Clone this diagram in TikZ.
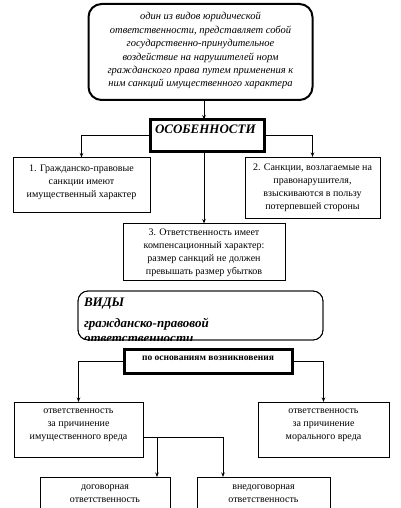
\documentclass[tikz,border=0pt]{standalone}
\usepackage{fontspec}
\setmainfont{Liberation Serif}
\usetikzlibrary{arrows.meta,calc}
\begin{document}
\begin{tikzpicture}[x=1pt,y=-1pt,
  ln/.style={draw=black, line width=0.8pt},
  arr/.style={ln, -{Stealth[length=4.5pt,width=3.5pt]}},
  box/.style={ln, rectangle, inner sep=0pt, outer sep=0pt},
  thickbox/.style={box, line width=3pt},
  txt/.style={inner sep=0pt, outer sep=0pt, align=center, font=\fontsize{10}{13}\selectfont},
  ittxt/.style={inner sep=0pt, outer sep=0pt, align=center, font=\fontsize{10.5}{13.4}\selectfont\itshape},
  bitxt/.style={inner sep=0pt, outer sep=0pt, anchor=base west, font=\fontsize{13}{15}\selectfont\bfseries\itshape}
]
\useasboundingbox (0,0) rectangle (401,508);
\fill[white] (0,0) rectangle (401,508);

% top definition box
\node[box, rounded corners=13pt, line width=2pt, minimum width=224pt, minimum height=96pt] (top) at (200.5,52) {};
\node[ittxt, anchor=north] (ttop) at (200.5,12.5) {один из видов юридической\\ответственности, представляет собой\\государственно-принудительное\\воздействие на нарушителей норм\\гражданского права путем применения к\\ним санкций имущественного характера};

% features header
\node[thickbox, minimum width=114pt, minimum height=32pt] (osob) at (207,135.5) {};
\node[bitxt] (tosob) at (155,133) {ОСОБЕННОСТИ};

% feature boxes
\node[box, minimum width=137pt, minimum height=55pt] (b1) at (81.5,185) {};
\node[txt, anchor=north] (t1) at (81.5,164.5) {1. Гражданско-правовые\\санкции имеют\\имущественный характер};

\node[box, minimum width=135pt, minimum height=61pt] (b2) at (312.5,187.5) {};
\node[txt, anchor=north] (t2) at (312.5,163.5) {2. Санкции, возлагаемые на\\правонарушителя,\\взыскиваются в пользу\\потерпевшей стороны};

\node[box, minimum width=162pt, minimum height=57pt] (b3) at (204,252) {};
\node[txt, anchor=north] (t3) at (204,229) {3. Ответственность имеет\\компенсационный характер:\\размер санкций не должен\\превышать размер убытков};

% kinds box (text clipped by frame)
\node[box, rounded corners=10pt, minimum width=245pt, minimum height=49pt] (vidy) at (200.5,315.5) {};
\begin{scope}
  \clip[rounded corners=10pt] (vidy.north west) rectangle (vidy.south east);
  \node[bitxt] (tv1) at (84,306) {ВИДЫ};
  \node[bitxt] (tv2) at (84,327) {гражданско-правовой};
  \node[bitxt] (tv3) at (84,342) {ответственности};
\end{scope}
\draw[ln, rounded corners=10pt] (vidy.north west) rectangle (vidy.south east);

% grounds header
\node[thickbox, minimum width=168pt, minimum height=24pt] (osn) at (208,361) {};
\node[inner sep=0pt, font=\fontsize{9.5}{11}\selectfont\bfseries] (tosn) at (208,358) {по основаниям возникновения};

% kinds boxes
\node[box, minimum width=129pt, minimum height=55pt] (b4) at (78.5,429.5) {};
\node[txt, anchor=north] (t4) at (78.5,409) {ответственность\\за причинение\\имущественного вреда};

\node[box, minimum width=131pt, minimum height=55pt] (b5) at (323.5,429.5) {};
\node[txt, anchor=north] (t5) at (323.5,409) {ответственность\\за причинение\\морального вреда};

\node[box, minimum width=130pt, minimum height=40pt] (b6) at (105,497) {};
\node[txt, anchor=north] (t6) at (105,485) {договорная\\ответственность};

\node[box, minimum width=133pt, minimum height=40pt] (b7) at (263.5,497) {};
\node[txt, anchor=north] (t7) at (263.5,485) {внедоговорная\\ответственность};

% connectors
\draw[arr] (b3.north |- top.south) -- (b3.north |- osob.north);
\draw[arr] (osob.west) -| (b1.north);
\draw[arr] (osob.east) -| (b2.north);
\draw[arr] (b3.north |- osob.south) -- (b3.north);

\draw[arr] (osn.west) -| (b4.north);
\draw[arr] (osn.east) -| (b5.north);

\coordinate (j1) at (157,437);
\coordinate (j2) at (223,437);
\draw[ln] (b4.east |- j1) -- (j2);
\draw[arr] (j1) -- (j1 |- b6.north);
\draw[arr] (j2) -- (j2 |- b7.north);
\end{tikzpicture}
\end{document}
